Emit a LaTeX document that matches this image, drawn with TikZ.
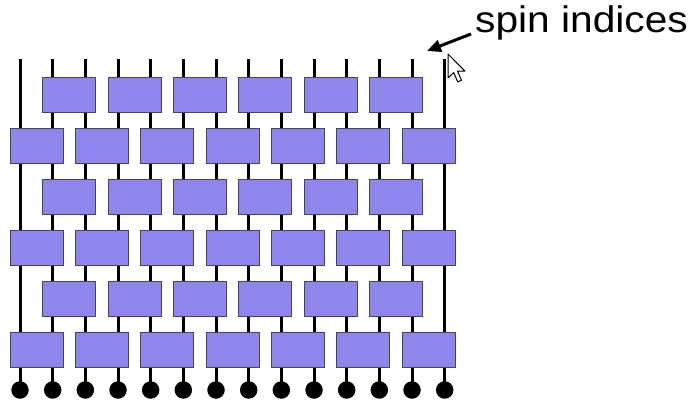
\documentclass[tikz,border=0pt]{standalone}
\usepackage{fontspec}
\setmainfont{Liberation Sans}
\usetikzlibrary{arrows.meta}
\definecolor{gatefill}{RGB}{142,134,236}
\definecolor{gateedge}{RGB}{70,70,90}
\tikzset{
  leg/.style={line width=3pt, black},
  gate/.style={draw=gateedge, line width=0.6pt, fill=gatefill,
    minimum width=53pt, minimum height=35pt, inner sep=0pt, rectangle},
  spindot/.style={circle, fill=black, minimum size=17.5pt, inner sep=0pt},
  pointer/.style={line width=3pt, -{Triangle[length=14pt,width=12pt]}},
}
\begin{document}
\begin{tikzpicture}[x=1pt,y=-1pt]
  \useasboundingbox (0,0) rectangle (694,404);
  \def\dx{32.667}
  % column coordinates: top of each leg and the spin dot below it
  \foreach \i in {0,...,13}{
    \coordinate (top\i) at ({20+\i*\dx},59);
    \node[spindot] (s\i) at ({20+\i*\dx},390) {};
    \draw[leg] (top\i) -- (s\i.center);
  }
  % brick-wall layers of two-site gates
  \foreach \r/\y in {1/94.5,3/196.5,5/298.5}{
    \foreach \k in {0,...,5}{
      \node[gate] (g\r-\k) at ({20+(2*\k+1.5)*\dx},\y) {};
    }
  }
  \foreach \r/\y in {2/145.5,4/247.5,6/349.5}{
    \foreach \k in {0,...,6}{
      \node[gate] (g\r-\k) at ({20+(2*\k+0.5)*\dx},\y) {};
    }
  }
  % label with pointer
  \node[anchor=base west, inner sep=0pt, font=\fontsize{37}{40}\selectfont]
    (label) at (475,33) {\scalebox{1.1}[1]{spin indices}};
  \coordinate (tip) at (427,51);
  \draw[pointer] (label.west |- 0,34) ++(-4,0) coordinate (tail) (tail) -- (tip);
  % mouse cursor
  \begin{scope}[shift={(448,54)}, scale=1.5]
    \draw[fill=white, line width=1pt, line join=round]
      (0,0) -- (0,16) -- (3.8,12.4) -- (6.5,18.6) -- (9,17.5) -- (6.3,11.4) -- (11.3,11.4) -- cycle;
  \end{scope}
\end{tikzpicture}
\end{document}
